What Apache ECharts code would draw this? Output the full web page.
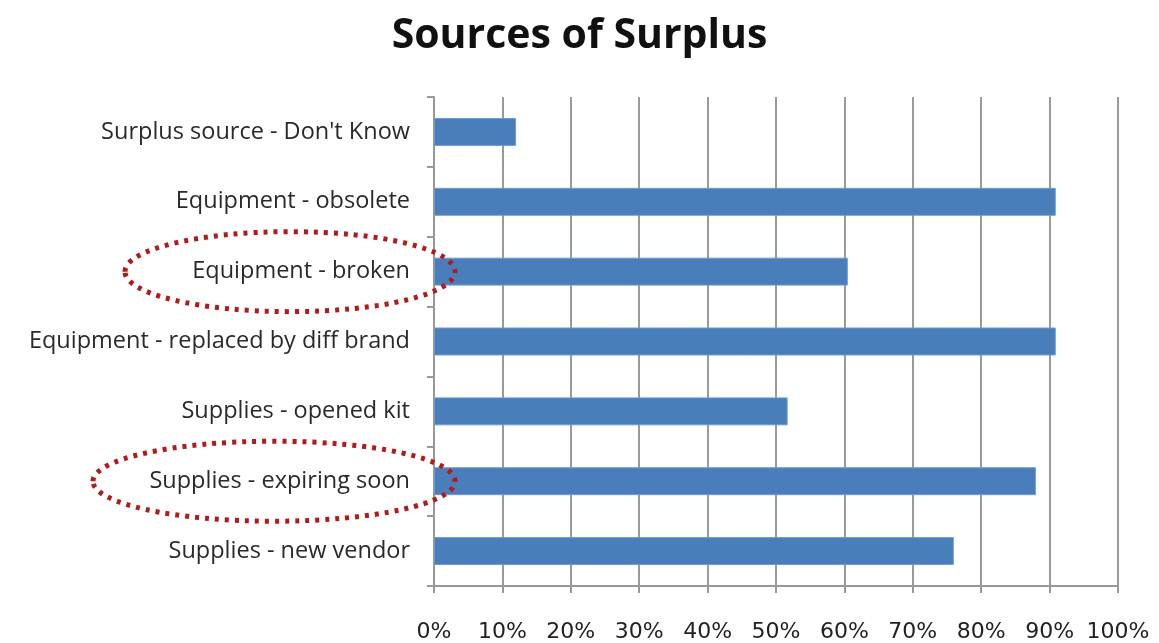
<!DOCTYPE html>
<html><head><meta charset="utf-8">
<script src="https://cdn.jsdelivr.net/npm/echarts@6/dist/echarts.min.js"></script>
<style>html,body{margin:0;padding:0;background:#fff}#c{width:1159px;height:643px}</style>
</head><body><div id="c"></div>
<script>
const categories = [
  "Surplus source - Don't Know",
  "Equipment - obsolete",
  "Equipment - broken",
  "Equipment - replaced by diff brand",
  "Supplies - opened kit",
  "Supplies - expiring soon",
  "Supplies - new vendor"
];
const values = [12, 90.9, 60.5, 90.9, 51.7, 88.0, 76.0];
const highlighted = ["Equipment - broken", "Supplies - expiring soon"];
const title = "Sources of Surplus";

const chart = echarts.init(document.getElementById('c'), null, {renderer: 'canvas'});
const option = {
  animation: false,
  backgroundColor: '#fff',
  title: {
    text: title, left: 'center', top: 11,
    textStyle: {fontFamily: 'Open Sans', fontWeight: 'bold', fontSize: 41, color: '#111'}
  },
  grid: {left: 434, right: 41, top: 97, bottom: 55, containLabel: false},
  xAxis: {
    type: 'value', min: 0, max: 100, interval: 10,
    axisLine: {show: true, lineStyle: {color: '#999', width: 2}},
    axisTick: {show: true, length: 7, lineStyle: {color: '#999', width: 2}},
    axisLabel: {formatter: '{value}%', margin: 35, fontFamily: 'DejaVu Sans', fontSize: 22, color: '#222'},
    splitLine: {show: true, lineStyle: {color: '#9a9a9a', width: 2}}
  },
  yAxis: {
    type: 'category', data: categories, inverse: true,
    axisLine: {show: true, lineStyle: {color: '#999', width: 2}},
    axisTick: {show: true, length: 7, lineStyle: {color: '#999', width: 2}},
    axisLabel: {margin: 24, fontFamily: 'Open Sans', fontSize: 23.5, color: '#2a2a2a'}
  },
  series: [{
    type: 'bar', data: values, barWidth: '40%',
    itemStyle: {color: '#4a7ebb', borderColor: '#6d9bd1', borderWidth: 1}
  }]
};
chart.setOption(option);

// dotted ellipse annotations around highlighted categories
const x0 = chart.convertToPixel({gridIndex: 0}, [0, 0])[0];
const ellipses = highlighted.map(name => {
  const y = chart.convertToPixel({yAxisIndex: 0}, name);
  const idx = categories.indexOf(name);
  const rx = idx === 2 ? 165 : 181;
  const cx = x0 + 21 - rx;
  return {
    type: 'ellipse', shape: {cx: cx, cy: y, rx: rx, ry: 40},
    style: {fill: null, stroke: '#b01c1c', lineWidth: 5, lineDash: [4, 6]}, z: 100
  };
});
chart.setOption({graphic: ellipses});
</script>
</body></html>
